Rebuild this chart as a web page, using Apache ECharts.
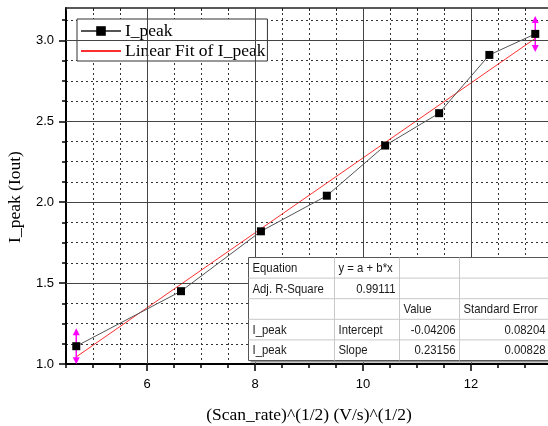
<!DOCTYPE html>
<html>
<head>
<meta charset="utf-8">
<script src="https://cdn.jsdelivr.net/npm/echarts@6/dist/echarts.min.js"></script>
<style>
  html, body { margin: 0; padding: 0; background: #fff; }
  #chart { width: 548px; height: 426px; }
</style>
</head>
<body>
<div id="chart"></div>
<script>
// Peak current versus square root of scan rate, with a linear fit
const scanRateRoot = [4.69, 6.63, 8.11, 9.33, 10.41, 11.41, 12.34, 13.19];
const iPeak = [1.11, 1.45, 1.82, 2.04, 2.35, 2.55, 2.91, 3.04];

// Fit results (y = a + b*x)
const fitIntercept = -0.04206;
const fitSlope = 0.23156;
const fitInterceptErr = 0.08204;
const fitSlopeErr = 0.00828;
const fitAdjR2 = 0.99111;

// Axis tick labels
const xMajorTicks = [6, 8, 10, 12];
const yMajorTicks = [1.0, 1.5, 2.0, 2.5, 3.0];

// Results table cells
const tableRows = [
  ['Equation', 'y = a + b*x', '', ''],
  ['Adj. R-Square', fitAdjR2.toFixed(5), '', ''],
  ['', '', 'Value', 'Standard Error'],
  ['I_peak', 'Intercept', fitIntercept.toFixed(5), fitInterceptErr.toFixed(5)],
  ['I_peak', 'Slope', fitSlope.toFixed(5), fitSlopeErr.toFixed(5)]
];
// which cells are right-aligned (numbers)
const tableRightAlign = [
  [false, false, false, false],
  [false, true, false, false],
  [false, false, false, false],
  [false, false, true, true],
  [false, false, true, true]
];

const X_MIN = 4.5, X_MAX = 13.5, Y_MIN = 1.0, Y_MAX = 3.2;

const yMinorTicks = [];
for (let v = Y_MIN; v < Y_MAX - 1e-9; v += 0.125) yMinorTicks.push(+v.toFixed(3));

const points = scanRateRoot.map((x, i) => [x, iPeak[i]]);
const xFirst = scanRateRoot[0], xLast = scanRateRoot[scanRateRoot.length - 1];
const fitLine = [
  [xFirst, fitIntercept + fitSlope * xFirst],
  [xLast, fitIntercept + fitSlope * xLast]
];
const rangeEnds = [points[0], points[points.length - 1]];

const serif = 'Liberation Serif, Times New Roman, serif';
const sans = 'Liberation Sans, Arial, sans-serif';

// Build the results table as graphic elements
function buildTable() {
  const left = 246, top = 255;
  const colX = [0, 86, 151, 211, 301];
  const rowH = 20.6;
  const w = colX[colX.length - 1], h = rowH * tableRows.length;
  const Z = 100;
  const children = [];
  children.push({ type: 'rect', z: Z, shape: { x: 2, y: 2, width: w, height: h }, style: { fill: '#9a9a9a' } });
  children.push({ type: 'rect', z: Z + 1, shape: { x: 0, y: 0, width: w, height: h }, style: { fill: '#fff', stroke: '#555', lineWidth: 1 } });
  for (let r = 1; r < tableRows.length; r++) {
    children.push({ type: 'line', z: Z + 2, shape: { x1: 0, y1: r * rowH, x2: w, y2: r * rowH }, style: { stroke: '#c8c8c8', lineWidth: 1 } });
  }
  for (let c = 1; c < colX.length - 1; c++) {
    children.push({ type: 'line', z: Z + 2, shape: { x1: colX[c], y1: 0, x2: colX[c], y2: h }, style: { stroke: '#c8c8c8', lineWidth: 1 } });
  }
  tableRows.forEach((row, r) => {
    row.forEach((txt, c) => {
      if (!txt) return;
      const right = tableRightAlign[r][c];
      children.push({
        type: 'text', z: Z + 3,
        x: right ? colX[c + 1] - 4 : colX[c] + 4,
        y: r * rowH + rowH / 2 + 0.5,
        scaleX: 0.84,
        style: {
          text: txt, fill: '#1a1a1a', font: '13.5px ' + sans,
          align: right ? 'right' : 'left', verticalAlign: 'middle'
        }
      });
    });
  });
  return { type: 'group', left: left, top: top, z: Z, children: children };
}

const chart = echarts.init(document.getElementById('chart'), null, { renderer: 'canvas' });

const majorGridLines = xMajorTicks.map(v => ({ xAxis: v }))
  .concat(yMajorTicks.filter(v => v > Y_MIN).map(v => ({ yAxis: v })));

const option = {
  animation: false,
  backgroundColor: '#fff',
  grid: { left: 66, right: -4, top: 8, bottom: 62, outerBoundsMode: 'none', containLabel: false },
  legend: {
    data: [
      { name: 'I_peak' },
      { name: 'Linear Fit of I_peak', itemStyle: { opacity: 0 } }
    ],
    orient: 'vertical',
    left: 77, top: 19,
    padding: [3, 2, 1, 3],
    itemWidth: 40, itemHeight: 12, itemGap: 2,
    backgroundColor: '#fff',
    borderColor: '#333', borderWidth: 1,
    textStyle: { fontFamily: serif, fontSize: 17.5, color: '#000', padding: [0, 0, 0, -1] },
    selectedMode: false
  },
  xAxis: [
    {
      type: 'value', min: X_MIN, max: X_MAX, interval: 0.5, position: 'bottom',
      axisLine: { show: true, lineStyle: { color: '#000', width: 2 } },
      axisTick: { show: true, length: 4, inside: false, lineStyle: { color: '#000', width: 1.5 } },
      axisLabel: { show: true, customValues: xMajorTicks, margin: 14, fontFamily: sans, fontSize: 13, color: '#000' },
      splitLine: { show: true, lineStyle: { color: '#333', width: 1, type: [2, 3] } },
      name: '(Scan_rate)^(1/2) (V/s)^(1/2)',
      nameLocation: 'middle', nameGap: 42,
      nameTextStyle: { fontFamily: serif, fontSize: 17.5, color: '#000' }
    },
    {
      type: 'value', min: X_MIN, max: X_MAX, position: 'bottom',
      axisLine: { show: false },
      axisTick: { show: true, customValues: xMajorTicks, length: 7, lineStyle: { color: '#000', width: 1.5 } },
      axisLabel: { show: false },
      splitLine: { show: false }
    },
    {
      type: 'value', min: X_MIN, max: X_MAX, interval: 0.5, position: 'top',
      axisLine: { show: true, lineStyle: { color: '#222', width: 1.5 } },
      axisTick: { show: true, inside: true, length: 3, lineStyle: { color: '#222', width: 1 } },
      axisLabel: { show: false },
      splitLine: { show: false }
    }
  ],
  yAxis: [
    {
      type: 'value', min: Y_MIN, max: Y_MAX, interval: 0.125, position: 'left',
      axisLine: { show: true, lineStyle: { color: '#000', width: 2 } },
      axisTick: { show: true, customValues: yMinorTicks, length: 4, lineStyle: { color: '#000', width: 1.5 } },
      axisLabel: {
        show: true, customValues: yMajorTicks, margin: 12,
        formatter: v => v.toFixed(1),
        fontFamily: sans, fontSize: 13, color: '#000'
      },
      splitLine: { show: true, lineStyle: { color: '#333', width: 1, type: [2, 3] } },
      name: 'I_peak (Iout)',
      nameLocation: 'middle', nameGap: 42,
      nameTextStyle: { fontFamily: serif, fontSize: 17.5, color: '#000', padding: [0, 22, 0, 0] }
    },
    {
      type: 'value', min: Y_MIN, max: Y_MAX, position: 'left',
      axisLine: { show: false },
      axisTick: { show: true, customValues: yMajorTicks, length: 7, lineStyle: { color: '#000', width: 1.5 } },
      axisLabel: { show: false },
      splitLine: { show: false }
    }
  ],
  series: [
    {
      // solid major grid lines
      name: 'grid-major', type: 'line', data: [], silent: true, z: 1,
      markLine: {
        silent: true, symbol: 'none', label: { show: false },
        lineStyle: { color: '#444', width: 1, type: 'solid' },
        data: majorGridLines
      }
    },
    {
      name: 'Linear Fit of I_peak', type: 'line', data: fitLine,
      symbol: 'none', z: 3,
      lineStyle: { color: '#ff3030', width: 1 },
      itemStyle: { color: '#ff3030' }
    },
    {
      // fit range markers at the first and last points
      name: 'fit-range', type: 'custom', data: rangeEnds, z: 4, silent: true,
      renderItem: function (params, api) {
        const p = api.coord([api.value(0), api.value(1)]);
        const c = '#ff00ff';
        return {
          type: 'group',
          children: [
            { type: 'line', shape: { x1: p[0], y1: p[1] - 16, x2: p[0], y2: p[1] + 16 }, style: { stroke: c, lineWidth: 1.5 } },
            { type: 'polygon', shape: { points: [[p[0], p[1] - 18], [p[0] - 3.5, p[1] - 11], [p[0] + 3.5, p[1] - 11]] }, style: { fill: c } },
            { type: 'polygon', shape: { points: [[p[0], p[1] + 18], [p[0] - 3.5, p[1] + 11], [p[0] + 3.5, p[1] + 11]] }, style: { fill: c } }
          ]
        };
      }
    },
    {
      name: 'I_peak', type: 'line', data: points, z: 5,
      symbol: 'rect', symbolSize: 8,
      itemStyle: { color: '#000' },
      lineStyle: { color: '#555', width: 1 }
    }
  ],
  graphic: [buildTable()]
};

chart.setOption(option);
</script>
</body>
</html>
